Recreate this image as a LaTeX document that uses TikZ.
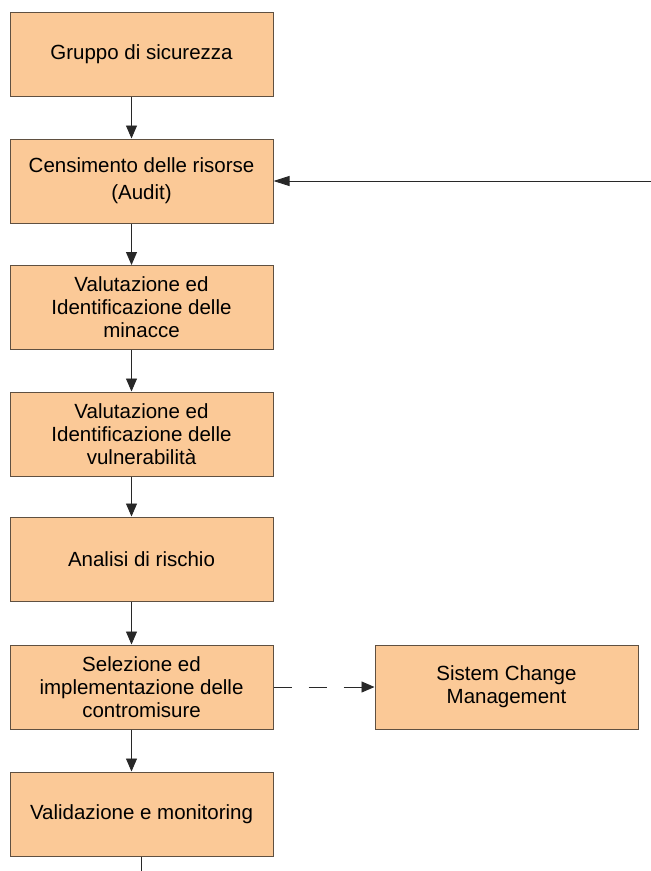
\documentclass[tikz,border=0pt]{standalone}
\usepackage{fontspec}
\setmainfont{Liberation Sans}
\usetikzlibrary{arrows.meta}

\definecolor{boxfill}{RGB}{251,201,151}
\definecolor{boxline}{RGB}{95,80,65}
\definecolor{wire}{RGB}{40,40,40}

\tikzset{
  stage/.style={draw=boxline, fill=boxfill, line width=1pt, minimum width=263pt, minimum height=84pt,
    inner sep=0pt, align=center, font=\fontsize{20.5}{23}\selectfont},
  flow/.style={draw=wire, line width=0.9pt, -{Triangle[length=13pt,width=11pt]}},
}

\begin{document}
\begin{tikzpicture}[x=1pt,y=1pt,yscale=-1,xscale=1]
%set diagram left start at 0, and has height of 871
\useasboundingbox (0,0) rectangle (651,871);

% Stage Nodes
\node[stage] (team) at (141.5,54.5) {Gruppo di sicurezza};
\node[stage] (audit) at (141.5,181) {Censimento delle risorse\\[4pt](Audit)};
\node[stage] (threat) at (141.5,307.5) {Valutazione ed\\Identificazione delle\\minacce};
\node[stage] (vuln) at (141.5,434) {Valutazione ed\\Identificazione delle\\vulnerabilità};
\node[stage] (risk) at (141.5,559) {Analisi di rischio};
\node[stage] (counter) at (141.5,687) {Selezione ed\\implementazione delle\\contromisure};
\node[stage] (valid) at (141.5,814) {Validazione e monitoring};
\node[stage] (change) at (506.5,687) {Sistem Change\\Management};

% Free ends
\coordinate (feedback) at (651,181);
\coordinate (tail) at (141,871);

%Straight Lines
\draw[flow] ([xshift=-10pt]team.south) -- ([xshift=-10pt]audit.north);
\draw[flow] ([xshift=-10pt]audit.south) -- ([xshift=-10pt]threat.north);
\draw[flow] ([xshift=-10pt]threat.south) -- ([xshift=-10pt]vuln.north);
\draw[flow] ([xshift=-10pt]vuln.south) -- ([xshift=-10pt]risk.north);
\draw[flow] ([xshift=-10pt]risk.south) -- ([xshift=-10pt]counter.north);
\draw[flow] ([xshift=-10pt]counter.south) -- ([xshift=-10pt]valid.north);

\draw[flow, -{Triangle[length=16pt,width=10pt]}] (feedback) -- (audit.east);
\draw[flow, dash pattern=on 18pt off 17pt] (counter.east) -- (change.west);
\draw[draw=wire, line width=0.9pt] (valid.south -| tail) -- (tail);

\end{tikzpicture}
\end{document}
